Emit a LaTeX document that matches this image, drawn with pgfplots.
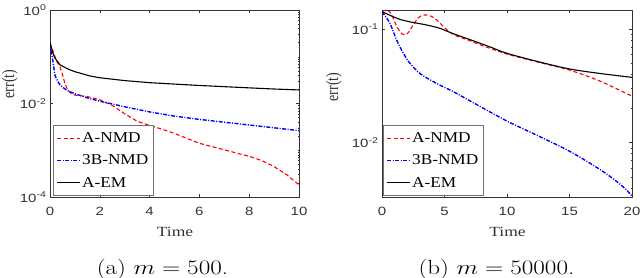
\documentclass[border=0pt]{standalone}
\usepackage{graphicx}
\usepackage{fontspec}
\usepackage{pgfplots}
\pgfplotsset{compat=1.18}
\newfontfamily\tnr{Liberation Serif}
\newfontfamily\tnrl[FakeStretch=1.15]{Liberation Serif}
\newfontfamily\hel{Liberation Sans}
\newcommand\hs[1]{\scalebox{1.25}[1]{#1}}
\definecolor{axgray}{gray}{0.2}
\begin{document}
\begin{tikzpicture}
\useasboundingbox (0bp,0bp) rectangle (640bp,278bp);
% ---------------- (a) ----------------
\begin{axis}[
  scale only axis,
  ymode=log,
  axis line style={draw=axgray, line width=0.5bp},
  tick style={draw=axgray, line width=0.4bp},
  major tick length=2.6bp,
  minor tick length=1.4bp,
  tick align=inside,
  ticklabel style={font=\hel\fontsize{12bp}{14bp}\selectfont, text=axgray},
  xticklabel style={yshift=-7bp},
  legend cell align=left,
  legend style={anchor=south west, draw=axgray!70, line width=0.5bp,
    font=\tnrl\fontsize{15bp}{16bp}\selectfont,
    inner xsep=3.5bp, inner ysep=6bp, row sep=9bp,
    nodes={inner sep=1bp},
    at={(rel axis cs:0.012,0.006)}},
  at={(50bp,81bp)}, anchor=south west,
  width=249bp, height=187bp,
  xmin=0, xmax=10, ymin=1e-4, ymax=1,
  xtick={0,2,4,6,8,10},
  xticklabels={\hs{0},\hs{2},\hs{4},\hs{6},\hs{8},\hs{10}},
  ytick={1e-4,1e-2,1},
  yticklabels={\hs{10\textsuperscript{-4}},\hs{10\textsuperscript{-2}},\hs{10\textsuperscript{0}}},
  minor ytick={2e-4,3e-4,4e-4,5e-4,6e-4,7e-4,8e-4,9e-4,1e-3,2e-3,3e-3,4e-3,5e-3,6e-3,7e-3,8e-3,9e-3,2e-2,3e-2,4e-2,5e-2,6e-2,7e-2,8e-2,9e-2,1e-1,2e-1,3e-1,4e-1,5e-1,6e-1,7e-1,8e-1,9e-1},
  xlabel={\hs{Time}},
  xlabel style={at={(axis description cs:0.502,-0.187)}, anchor=center,
    font=\tnr\fontsize{14bp}{16bp}\selectfont, text=axgray},
]
\addplot[red, line width=1.1bp, dash pattern=on 4bp off 2.5bp,
  legend image code/.code={\draw[red, line width=1.1bp, dash pattern=on 4bp off 2.5bp] (0bp,0bp) -- (23bp,0bp);}] coordinates {
(0,0.200) (0.1,0.1413) (0.27,0.0794) (0.4,0.0617) (0.5,0.0417) (0.6,0.0269) (0.7,0.0200)
(0.85,0.0162) (1,0.0151) (1.5,0.0141) (2,0.0120) (2.5,0.00912) (3,0.00603) (3.5,0.00417)
(4,0.00339) (4.5,0.00282) (5,0.00229) (6,0.00141) (7,0.00102) (8,0.000741) (8.5,0.000603)
(9,0.000447) (9.5,0.000302) (10,0.000182)};
\addlegendentry{A-NMD}
\addplot[blue, line width=1.4bp, dash pattern=on 4bp off 1.5bp on 1bp off 1.5bp,
  legend image code/.code={\draw[blue, line width=1.4bp, dash pattern=on 4bp off 1.5bp on 1bp off 1.5bp] (0bp,0bp) -- (23bp,0bp);}] coordinates {
(0,0.200) (0.05,0.1259) (0.1,0.0933) (0.2,0.0398) (0.3,0.0302) (0.4,0.0251) (0.6,0.0204)
(0.8,0.0178) (1,0.0162) (1.5,0.0132) (2,0.0112) (3,0.00851) (4,0.00661) (5,0.00537)
(6,0.00457) (7,0.00398) (8,0.00347) (9,0.00302) (10,0.00263)};
\addlegendentry{3B-NMD}
\addplot[black, line width=1.1bp,
  legend image code/.code={\draw[black, line width=1.1bp] (0bp,0bp) -- (23bp,0bp);}] coordinates {
(0,0.200) (0.1,0.1259) (0.2,0.0933) (0.4,0.0676) (0.6,0.0589) (0.8,0.0525) (1,0.0479)
(1.6,0.0389) (2,0.0355) (3,0.0309) (4,0.0279) (5,0.0260) (6,0.0243) (7,0.0229)
(8,0.0216) (9,0.0204) (10,0.0195)};
\addlegendentry{A-EM}
\end{axis}
% ---------------- (b) ----------------
\begin{axis}[
  scale only axis,
  ymode=log,
  axis line style={draw=axgray, line width=0.5bp},
  tick style={draw=axgray, line width=0.4bp},
  major tick length=2.6bp,
  minor tick length=1.4bp,
  tick align=inside,
  ticklabel style={font=\hel\fontsize{12bp}{14bp}\selectfont, text=axgray},
  xticklabel style={yshift=-7bp},
  legend cell align=left,
  legend style={anchor=south west, draw=axgray!70, line width=0.5bp,
    font=\tnrl\fontsize{15bp}{16bp}\selectfont,
    inner xsep=3.5bp, inner ysep=6bp, row sep=9bp,
    nodes={inner sep=1bp},
    at={(rel axis cs:0.004,0.006)}},
  at={(382bp,81bp)}, anchor=south west,
  width=250bp, height=187bp,
  xmin=0, xmax=20, ymin=0.00332, ymax=0.148,
  xtick={0,5,10,15,20},
  xticklabels={\hs{0},\hs{5},\hs{10},\hs{15},\hs{20}},
  ytick={1e-2,1e-1},
  yticklabels={\hs{10\textsuperscript{-2}},\hs{10\textsuperscript{-1}}},
  minor ytick={4e-3,5e-3,6e-3,7e-3,8e-3,9e-3,2e-2,3e-2,4e-2,5e-2,6e-2,7e-2,8e-2,9e-2},
  xlabel={\hs{Time}},
  xlabel style={at={(axis description cs:0.502,-0.187)}, anchor=center,
    font=\tnr\fontsize{14bp}{16bp}\selectfont, text=axgray},
]
\addplot[red, line width=1.1bp, dash pattern=on 4bp off 2.5bp, smooth, tension=0.5,
  legend image code/.code={\draw[red, line width=1.1bp, dash pattern=on 4bp off 2.5bp] (0bp,0bp) -- (23bp,0bp);}] coordinates {
(0,0.1429) (0.35,0.1479) (0.7,0.1390) (1,0.1175) (1.2,0.1047) (1.6,0.0912) (1.84,0.0891)
(2.1,0.0933) (2.5,0.1096) (2.9,0.1259) (3.2,0.1324) (3.57,0.1337) (4,0.1294) (4.5,0.1175)
(5,0.1035) (5.5,0.0930) (6,0.0870) (7,0.0795) (8,0.0720) (10,0.0605) (12.5,0.0513)
(15,0.0437) (17.5,0.0347) (20,0.0257)};
\addlegendentry{A-NMD}
\addplot[blue, line width=1.4bp, dash pattern=on 4bp off 1.5bp on 1bp off 1.5bp, smooth, tension=0.5,
  legend image code/.code={\draw[blue, line width=1.4bp, dash pattern=on 4bp off 1.5bp on 1bp off 1.5bp] (0bp,0bp) -- (23bp,0bp);}] coordinates {
(0,0.1429) (0.3,0.1288) (0.64,0.1130) (1.17,0.0805) (1.7,0.0617) (2.24,0.0501) (3.04,0.0407)
(4.37,0.0333) (5.7,0.0282) (7.5,0.0219) (10,0.0155) (12.5,0.01148) (15,0.00841)
(17.5,0.00575) (18.75,0.00457) (19.5,0.00389) (20,0.00339)};
\addlegendentry{3B-NMD}
\addplot[black, line width=1.1bp, smooth, tension=0.5,
  legend image code/.code={\draw[black, line width=1.1bp] (0bp,0bp) -- (23bp,0bp);}] coordinates {
(0,0.1429) (1,0.1276) (1.5,0.1216) (2.5,0.1148) (3.5,0.1096) (4.6,0.1023) (5.5,0.0933)
(6.5,0.0851) (7.5,0.0778) (8.75,0.0692) (10,0.0614) (12.5,0.0518) (15,0.0447) (17.5,0.0407)
(20,0.0377)};
\addlegendentry{A-EM}
\end{axis}
% y labels
\node[rotate=90, anchor=center, font=\tnr\fontsize{14bp}{16bp}\selectfont, text=axgray] at (10bp,194bp) {\scalebox{1}[1.25]{err(t)}};
\node[rotate=90, anchor=center, font=\tnr\fontsize{14bp}{16bp}\selectfont, text=axgray] at (334bp,191bp) {\scalebox{1}[1.25]{err(t)}};
% captions
\node[anchor=base, font=\fontsize{20.5bp}{24bp}\selectfont] at (162.5bp,3.7bp) {\scalebox{1.22}[1]{(a) $m=500$.}};
\node[anchor=base, font=\fontsize{20.5bp}{24bp}\selectfont] at (496.5bp,3.7bp) {\scalebox{1.22}[1]{(b) $m=50000$.}};
\end{tikzpicture}
\end{document}
